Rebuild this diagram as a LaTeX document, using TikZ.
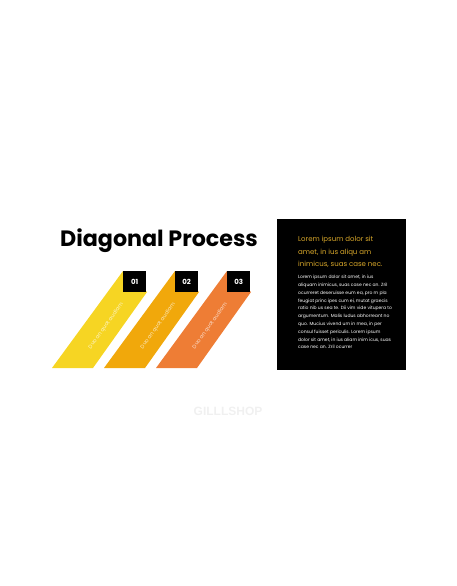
\documentclass[tikz,border=0pt]{standalone}
\usepackage{fontspec}
\setmainfont{Poppins}
\newfontfamily\markfont{Liberation Sans}
\definecolor{stepA}{HTML}{F6D523}
\definecolor{stepB}{HTML}{F1A80B}
\definecolor{stepC}{HTML}{EE7D35}
\definecolor{headgold}{HTML}{D9A82A}
\begin{document}
\begin{tikzpicture}[x=1pt,y=-1pt,line join=round,
	numbox/.style={fill=black,text=white,inner sep=0pt,minimum width=23pt,minimum height=21pt,font=\bfseries\fontsize{7}{7}\selectfont},
	slanttext/.style={rotate=54,text=white,text opacity=.75,inner sep=0pt,font=\fontsize{5.3}{6}\selectfont}]
	\useasboundingbox (0,0) rectangle (456,586);
	\def\gap{52}
	% the three slanted bands, each with its number box
	\foreach \i/\c in {1/stepA,2/stepB,3/stepC}{
		\pgfmathsetmacro\dx{\gap*(\i-1)}
		\path
		(52+\dx,368) coordinate (BL_\i)
		(93+\dx,368) coordinate (BR_\i)
		(147+\dx,292) coordinate (TR_\i)
		(123+\dx,271) coordinate (TL_\i)
		;
		\fill[\c] (BL_\i)--(BR_\i)--(TR_\i)--(TL_\i)--cycle;
		\node[slanttext] (lbl\i) at (106+\dx,326) {Duo an quot audiam};
		\node[numbox,anchor=north west] (num\i) at (TL_\i) {0\i};
	}
	\node[anchor=base west,inner sep=0pt,font=\bfseries\fontsize{22.2}{23}\selectfont] (title) at (60,246) {Diagonal Process};
	% text panel
	\node[fill=black,inner sep=0pt,minimum width=129pt,minimum height=151pt,anchor=north west] (panel) at (277,219) {};
	\node[anchor=north west,inner sep=0pt,align=left,text=headgold,font=\fontsize{7}{12.7}\selectfont]
		(head) at ([xshift=21pt,yshift=-17pt]panel.north west)
		{Lorem ipsum dolor sit\\amet, in ius aliqu am\\inimicus, suas case nec.};
	\node[anchor=north west,inner sep=0pt,align=left,text=white,font=\fontsize{4.5}{7.8}\selectfont]
		(body) at ([xshift=21pt,yshift=-56pt]panel.north west)
		{Lorem ipsum dolor sit amet, in ius\\
		aliquam inimicus, suas case nec an. Zril\\
		ocurreret deseruisse eum ea, pro m pla\\
		feugiat princ ipes cum ei, mutat graecis\\
		ratio nib us sea te. Dii vim vide vitupera to\\
		argumentum. Malis ludus abhorreant no\\
		quo. Mucius vivend um in mea, in per\\
		consul fuisset periculis. Lorem ipsum\\
		dolor sit amet, in ius aliam inim icus, suas\\
		case nec an. Zril ocurrer};
	\node[text=black!6,inner sep=0pt,font=\markfont\bfseries\fontsize{12}{12}\selectfont] (mark) at (228,411) {GILLLSHOP};
\end{tikzpicture}
\end{document}
